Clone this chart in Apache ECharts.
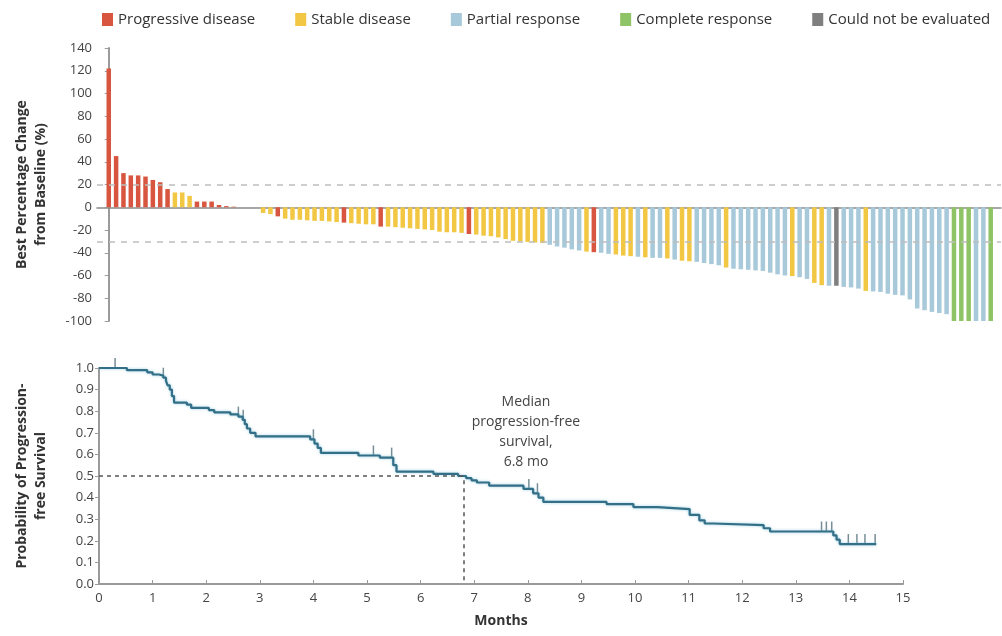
<!DOCTYPE html>
<html>
<head>
<meta charset="utf-8">
<script src="https://cdn.jsdelivr.net/npm/echarts@6/dist/echarts.min.js"></script>
<style>
  html, body { margin: 0; padding: 0; background: #fff; }
  #chart { width: 1002px; height: 636px; }
</style>
</head>
<body>
<div id="chart"></div>
<script>
// best percentage change per patient, sorted as in the waterfall
const changes = [
  122, 45, 30, 28, 28, 27, 24, 22, 16, 13, 13, 10, 5, 5, 5, 2, 1, 0.5, 0, 0,
  0, -5, -6, -8, -10, -11, -11, -11.5, -12, -12, -12.5, -13, -13.5, -14, -14.5, -15, -15, -17, -17, -17.5,
  -18, -18.5, -19, -19.5, -20, -21.5, -22, -22, -22.5, -23.5, -24, -25, -25.5, -26.5, -28, -29.5, -30, -30.5, -31, -31.5,
  -33, -34.5, -35.5, -37, -38, -39, -39.5, -40, -41, -41.5, -42.5, -43, -43.5, -44, -44.5, -44.5, -45, -46, -47, -47.5,
  -48, -49, -50, -51, -53, -54, -54.5, -55, -55.5, -56, -57.5, -59, -60, -60.5, -61.5, -63, -66.5, -68.5, -69, -69,
  -70, -70.5, -71.5, -73.5, -74, -74.5, -76, -77, -77.5, -81, -89, -90.5, -92, -93, -94, -100, -100, -100, -100, -100,
  -100
];
// P progressive, S stable, R partial, C complete, N not evaluated
const responses = [
  'P','P','P','P','P','P','P','P','P','S','S','S','P','P','P','P','P','P','S','S',
  'S','S','S','P','S','S','S','S','S','S','S','S','P','S','S','S','S','P','S','S',
  'S','S','S','S','S','S','S','S','S','P','S','S','S','S','S','S','S','S','S','S',
  'R','R','R','R','R','S','P','R','R','S','S','S','R','S','R','R','S','R','S','S',
  'R','R','R','R','S','R','R','R','R','R','R','R','R','S','R','R','S','S','R','N',
  'R','R','R','S','R','R','R','R','R','R','R','R','R','R','R','C','C','C','R','R',
  'C'
];
const responseNames = {
  P: 'Progressive disease',
  S: 'Stable disease',
  R: 'Partial response',
  C: 'Complete response',
  N: 'Could not be evaluated'
};
const responseColors = {
  P: '#d8553f',
  S: '#f2c744',
  R: '#a8c9da',
  C: '#8fc466',
  N: '#7f7f7f'
};
const refLines = [20, -30];

// Kaplan-Meier steps: survival drops to pfs[i] at months[i]
const months = [0, 0.52, 0.9, 1.0, 1.12, 1.2, 1.25, 1.28, 1.32, 1.36, 1.4, 1.64, 1.72, 2.05, 2.15, 2.45, 2.6, 2.68, 2.72, 2.76,
  2.82, 2.92, 3.94, 4.02, 4.08, 4.14, 4.84, 5.24, 5.49, 5.55, 6.24, 6.7, 6.85, 6.95, 7.05, 7.28, 7.92, 8.1, 8.2, 8.29,
  9.47, 9.97, 10.42, 11.02, 11.2, 11.3, 11.46, 12.4, 12.52, 13.7, 13.76, 13.82, 14.5];
const pfs = [1.0, 0.99, 0.98, 0.97, 0.965, 0.955, 0.94, 0.92, 0.9, 0.87, 0.84, 0.83, 0.815, 0.805, 0.795, 0.785, 0.775, 0.76, 0.74, 0.72,
  0.7, 0.683, 0.67, 0.65, 0.63, 0.607, 0.595, 0.585, 0.55, 0.52, 0.51, 0.5, 0.49, 0.48, 0.47, 0.455, 0.44, 0.42, 0.4, 0.38,
  0.37, 0.356, 0.347, 0.32, 0.295, 0.28, 0.273, 0.258, 0.243, 0.225, 0.205, 0.185, 0.185];
const censorMonths = [0.3, 1.2, 2.6, 2.69, 4.0, 5.12, 5.46, 8.02, 8.18, 13.48, 13.57, 13.67, 13.98, 14.14, 14.29, 14.48];
const censorPfs = [1.0, 0.955, 0.775, 0.76, 0.67, 0.595, 0.585, 0.44, 0.42, 0.243, 0.243, 0.243, 0.185, 0.185, 0.185, 0.185];
const medianMonths = 6.8;
const pfsTicks = [0, 1, 0.1];

const fontFamily = '"Open Sans", sans-serif';
const chart = echarts.init(document.getElementById('chart'), null, { renderer: 'canvas' });

const order = ['P', 'S', 'R', 'C', 'N'];
const barSeries = order.map(function (code, k) {
  const data = [];
  for (let i = 0; i < changes.length; i++) {
    if (responses[i] === code) data.push([i, changes[i]]);
  }
  const s = {
    name: responseNames[code],
    type: 'bar',
    xAxisIndex: 0,
    yAxisIndex: 0,
    barWidth: 4.5,
    barGap: '-100%',
    itemStyle: { color: responseColors[code] },
    data: data,
    silent: true
  };
  if (k === 0) {
    s.markLine = {
      silent: true,
      symbol: 'none',
      label: { show: false },
      lineStyle: { color: '#bdbdbd', type: [6, 6], width: 1.5 },
      data: refLines.map(function (v) { return { yAxis: v }; })
    };
  }
  return s;
});

const kmData = months.map(function (t, i) { return [t, pfs[i]]; });
const censorData = censorMonths.map(function (t, i) { return [t, censorPfs[i]]; });

const option = {
  animation: false,
  textStyle: { fontFamily: fontFamily },
  legend: {
    left: 97,
    top: 7,
    itemWidth: 11,
    itemHeight: 13,
    itemGap: 40,
    icon: 'rect',
    textStyle: { fontSize: 15, color: '#333', fontFamily: fontFamily },
    data: order.map(function (c) { return responseNames[c]; })
  },
  grid: [
    { left: 97, right: 1, top: 48, height: 273 },
    { left: 99, right: 99, top: 368, height: 216 }
  ],
  xAxis: [
    {
      gridIndex: 0,
      type: 'value',
      min: -1.6,
      max: 121.4,
      axisLine: { show: true, onZero: true, lineStyle: { color: '#8a8a8a', width: 1.5 } },
      axisTick: { show: false },
      axisLabel: { show: false },
      splitLine: { show: false }
    },
    {
      gridIndex: 1,
      type: 'value',
      min: 0,
      max: 15,
      interval: 1,
      name: 'Months',
      nameLocation: 'middle',
      nameGap: 30,
      nameTextStyle: { fontSize: 14, fontWeight: 'bold', color: '#333' },
      axisLine: { lineStyle: { color: '#9a9a9a', width: 2 } },
      axisTick: { inside: true, length: 4, lineStyle: { color: '#9a9a9a' } },
      axisLabel: { fontSize: 13, color: '#444', margin: 8 },
      splitLine: { show: false }
    }
  ],
  yAxis: [
    {
      gridIndex: 0,
      type: 'value',
      min: -100,
      max: 140,
      interval: 20,
      name: 'Best Percentage Change\nfrom Baseline (%)',
      nameLocation: 'middle',
      nameGap: 46,
      nameTextStyle: { fontSize: 14, fontWeight: 'bold', color: '#333', lineHeight: 19 },
      axisLine: { show: true, lineStyle: { color: '#9a9a9a', width: 2 } },
      axisTick: { show: true, length: 4, lineStyle: { color: '#9a9a9a' } },
      axisLabel: { fontSize: 13, color: '#444', margin: 5 },
      splitLine: { show: false }
    },
    {
      gridIndex: 1,
      type: 'value',
      min: pfsTicks[0],
      max: pfsTicks[1],
      interval: pfsTicks[2],
      name: 'Probability of Progression-\nfree Survival',
      nameLocation: 'middle',
      nameGap: 48,
      nameTextStyle: { fontSize: 14, fontWeight: 'bold', color: '#333', lineHeight: 19 },
      axisLine: { show: true, lineStyle: { color: '#9a9a9a', width: 2 } },
      axisTick: { show: true, length: 4, lineStyle: { color: '#9a9a9a' } },
      axisLabel: { fontSize: 13, color: '#444', margin: 5, formatter: function (v) { return v.toFixed(1); } },
      splitLine: { show: false }
    }
  ],
  graphic: [
    {
      type: 'text',
      x: 526,
      y: 392,
      style: {
        text: 'Median\nprogression-free\nsurvival,\n' + medianMonths + ' mo',
        align: 'center',
        verticalAlign: 'top',
        fill: '#444',
        fontSize: 14,
        lineHeight: 20,
        fontFamily: fontFamily
      }
    }
  ],
  series: barSeries.concat([
    {
      name: 'PFS',
      type: 'line',
      xAxisIndex: 1,
      yAxisIndex: 1,
      step: 'end',
      showSymbol: false,
      silent: true,
      lineStyle: { color: '#336f86', width: 2.2, shadowColor: 'rgba(120,190,215,0.7)', shadowBlur: 3 },
      data: kmData,
      markLine: {
        silent: true,
        symbol: 'none',
        label: { show: false },
        lineStyle: { color: '#555', type: [4, 4], width: 1.5 },
        data: [
          [{ coord: [0, 0.5] }, { coord: [medianMonths, 0.5] }],
          [{ coord: [medianMonths, 0.48] }, { coord: [medianMonths, 0] }]
        ]
      }
    },
    {
      name: 'Censored',
      type: 'scatter',
      xAxisIndex: 1,
      yAxisIndex: 1,
      silent: true,
      symbol: 'rect',
      symbolSize: [1.5, 10],
      symbolOffset: [0, -5],
      itemStyle: { color: '#55707c' },
      data: censorData
    }
  ])
};

chart.setOption(option);
</script>
</body>
</html>
